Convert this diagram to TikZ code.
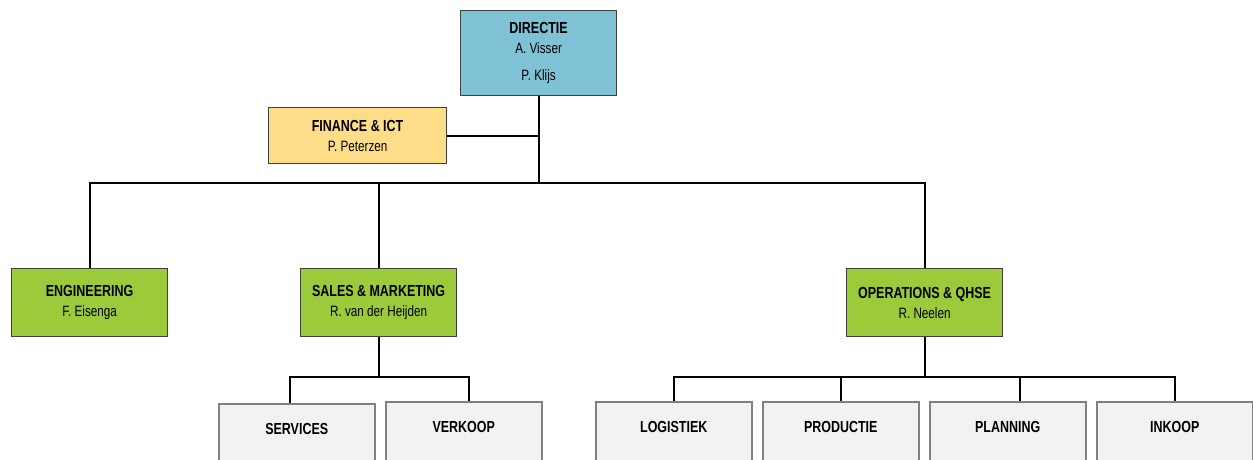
\documentclass[tikz,border=0pt]{standalone}
\usepackage{fontspec}
\setmainfont[FakeStretch=0.78]{Liberation Sans}
\definecolor{dirblue}{HTML}{7FC1D5}
\definecolor{finyellow}{HTML}{FEDD89}
\definecolor{deptgreen}{HTML}{9BCB3A}
\definecolor{unitgrey}{HTML}{F2F2F2}
\newcommand{\ttl}[1]{{\fontsize{16}{20}\selectfont\bfseries #1}}
\begin{document}
\begin{tikzpicture}[x=1pt,y=-1pt,
  box/.style={draw=black!75,line width=1.2pt,minimum width=156pt,minimum height=68pt,anchor=north west,align=center,inner sep=0pt,font=\fontsize{15}{20}\selectfont},
  dept/.style={box,fill=deptgreen},
  unit/.style={draw=black!50,line width=1.5pt,fill=unitgrey,minimum width=156pt,anchor=north west,inner xsep=0pt,inner ysep=19pt,text height=12pt,text depth=50pt,font=\fontsize{16}{18}\selectfont\bfseries},
  link/.style={line width=2.2pt}]
\useasboundingbox (0,0) rectangle (1253,459);
\clip (0,0) rectangle (1253,459);
\node[box,fill=dirblue,minimum height=85pt] (dir) at (460,10) {\ttl{DIRECTIE}\\A. Visser\\[7pt]P. Klijs};
\node[box,fill=finyellow,minimum width=178pt,minimum height=56pt] (fin) at (268,107) {\ttl{FINANCE \& ICT}\\P. Peterzen};
\node[dept] (eng) at (11,268) {\ttl{ENGINEERING}\\F. Eisenga};
\node[dept] (sal) at (300,268) {\ttl{SALES \& MARKETING}\\R. van der Heijden};
\node[dept] (ops) at (846,268) {\ttl{OPERATIONS \& QHSE}\\R. Neelen};
\node[unit] (srv) at (218,403) {SERVICES};
\node[unit] (vrk) at (385,401) {VERKOOP};
\node[unit] (log) at (595,401) {LOGISTIEK};
\node[unit] (pro) at (762,401) {PRODUCTIE};
\node[unit] (pla) at (929,401) {PLANNING};
\node[unit] (ink) at (1096,401) {INKOOP};
\path (dir.south) ++(0,87) coordinate (bus);
\path (sal.south) ++(0,40) coordinate (sbus);
\path (ops.south) ++(0,40) coordinate (obus);
\draw[link] (dir.south) -- (bus);
\draw[link] (fin.east) -- (fin.east -| dir.south);
\draw[link] (bus) -| (eng.north);
\draw[link] (bus) -| (sal.north);
\draw[link] (bus) -| (ops.north);
\draw[link] (sal.south) -- (sbus) -| ([xshift=-7pt]srv.north);
\draw[link] (sbus) -| ([xshift=5pt]vrk.north);
\draw[link] (ops.south) -- (obus) -| (log.north);
\draw[link] (obus) -| (pro.north);
\draw[link] (obus) -| ([xshift=12pt]pla.north);
\draw[link] (obus) -| (ink.north);
\end{tikzpicture}
\end{document}
